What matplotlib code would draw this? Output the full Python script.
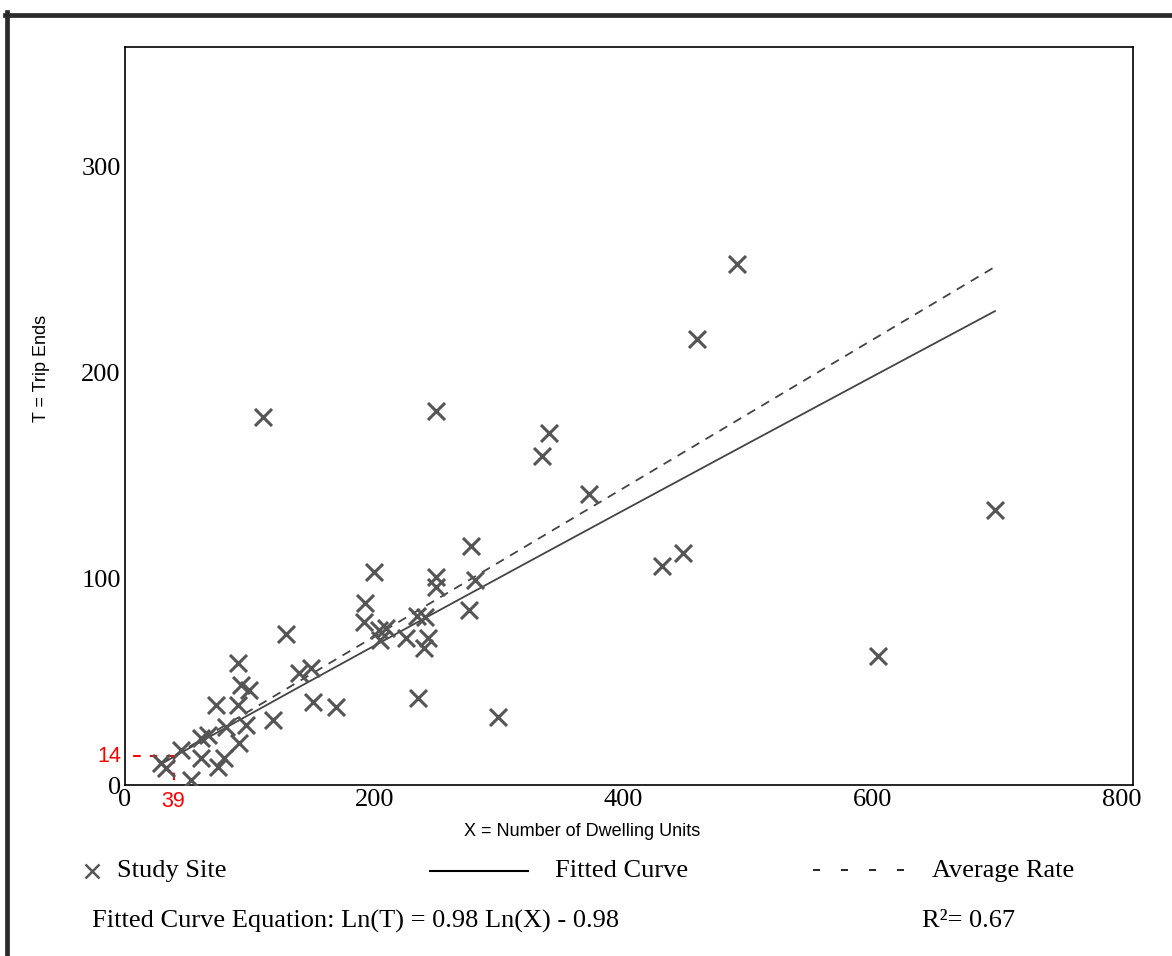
import numpy as np
import matplotlib
matplotlib.use('Agg')
import matplotlib.pyplot as plt
from matplotlib.lines import Line2D

# study sites: dwelling units (x) and trip ends (t)
units = [28.9, 32.9, 44.9, 52.9, 60.9, 66.5, 60.9, 72.9, 74.5, 79.4,
         81.0, 90.6, 90.6, 91.4, 93.0, 97.0, 99.4, 118.6, 139.5, 149.1,
         150.7, 129.0, 169.1, 110.6,
         199.6, 192.4, 191.6, 203.6, 204.4, 209.2, 225.3, 234.1, 240.5, 242.9,
         239.7, 249.3, 249.3, 280.6, 275.8, 277.4, 234.9, 299.0, 249.3,
         334.3, 339.9, 372.0, 431.3, 448.1, 459.3, 491.4, 604.4, 698.2]
trips = [10.7, 8.3, 17.0, 2.4, 22.8, 24.3, 13.1, 38.8, 8.7, 13.1,
         28.2, 38.8, 59.2, 20.4, 48.5, 29.1, 46.1, 31.6, 54.4, 56.8,
         40.3, 73.3, 37.9, 178.6,
         103.4, 88.3, 79.1, 75.2, 70.4, 76.2, 71.4, 82.0, 81.6, 71.4,
         66.5, 101.0, 96.1, 99.5, 85.0, 116.0, 42.2, 33.0, 181.6,
         159.7, 170.9, 141.3, 106.3, 112.6, 216.5, 252.9, 62.6, 133.5]

# fitted curve Ln(T) = 0.98 Ln(X) - 0.98, average rate
coef_a = 0.98
coef_b = -0.98
avg_rate = 0.36
r2 = 0.67
mark_x = 39
mark_t = 14

gray = '#555555'
serif = 'Liberation Serif'
sans = 'Liberation Sans'

fig = plt.figure(figsize=(11.72, 9.56), dpi=100)
ax = fig.add_axes([125/1172, 171/956, 1008/1172, 738/956])

ax.scatter(units, trips, marker='x', s=150, linewidths=2.2, color=gray, zorder=3)

xs = np.linspace(min(units), max(units), 200)
ax.plot(xs, np.exp(coef_b) * xs ** coef_a, color='#444444', lw=1.3)
ax.plot(xs, avg_rate * xs, color='#444444', lw=1.3, linestyle=(0, (5, 4)))

# red marker for the smallest site
ax.plot([mark_x, 0], [mark_t, mark_t], color='red', lw=1.5, linestyle=(0, (3.6, 4.4)), clip_on=False)
ax.plot([mark_x, mark_x], [mark_t, 0], color='red', lw=1.5, linestyle=(0, (3.6, 4.4)), clip_on=False)
ax.annotate(str(mark_t), xy=(0, mark_t), xytext=(-3, 0), textcoords='offset points',
            ha='right', va='center', color='red', fontsize=15.5, family=sans)
ax.annotate(str(mark_x), xy=(mark_x, 0), xytext=(0, -4), textcoords='offset points',
            ha='center', va='top', color='red', fontsize=15.5, family=sans)

ax.set_xlim(0, 809)
ax.set_ylim(0, 358)
ax.set_xticks([0, 200, 400, 600, 800])
ax.set_yticks([0, 100, 200, 300])
ax.tick_params(length=0, labelsize=19, pad=3)
for lab in ax.get_xticklabels() + ax.get_yticklabels():
    lab.set_family(serif)
for sp in ax.spines.values():
    sp.set_linewidth(1.2)

fig.text(582/1172, 1 - 831/956, 'X = Number of Dwelling Units', ha='center', va='center',
         fontsize=13, family=sans)
fig.text(42/1172, 1 - 368/956, 'T = Trip Ends', ha='center', va='center', rotation=90,
         fontsize=13, family=sans)

# legend row
ly = 1 - 871/956
fig.lines.append(Line2D([92/1172], [ly], marker='x', ms=10, mew=1.8, color=gray, transform=fig.transFigure))
fig.text(117/1172, ly, 'Study Site', ha='left', va='center', fontsize=19, family=serif)
fig.lines.append(Line2D([430/1172, 528/1172], [ly, ly], color='black', lw=1.5, transform=fig.transFigure))
fig.text(555/1172, ly, 'Fitted Curve', ha='left', va='center', fontsize=19, family=serif)
fig.lines.append(Line2D([813/1172, 904/1172], [ly + 1/956, ly + 1/956], color='black', lw=1.2,
                        linestyle=(0, (4.2, 12.6)), transform=fig.transFigure))
fig.text(932/1172, ly, 'Average Rate', ha='left', va='center', fontsize=19, family=serif)

ey = 1 - 921/956
fig.text(92/1172, ey, 'Fitted Curve Equation: Ln(T) = %.2f Ln(X) - %.2f' % (coef_a, -coef_b),
         ha='left', va='center', fontsize=19, family=serif)
fig.text(922/1172, ey, 'R²= %.2f' % r2, ha='left', va='center', fontsize=19, family=serif)

# outer frame
fig.lines.append(Line2D([7/1172, 7/1172], [0, 1 - 12/956], color='#2b2b2b', lw=3.4, transform=fig.transFigure))
fig.lines.append(Line2D([5/1172, 1], [1 - 14.5/956, 1 - 14.5/956], color='#2b2b2b', lw=3.4, transform=fig.transFigure))

fig.savefig('out.png', dpi=100)
